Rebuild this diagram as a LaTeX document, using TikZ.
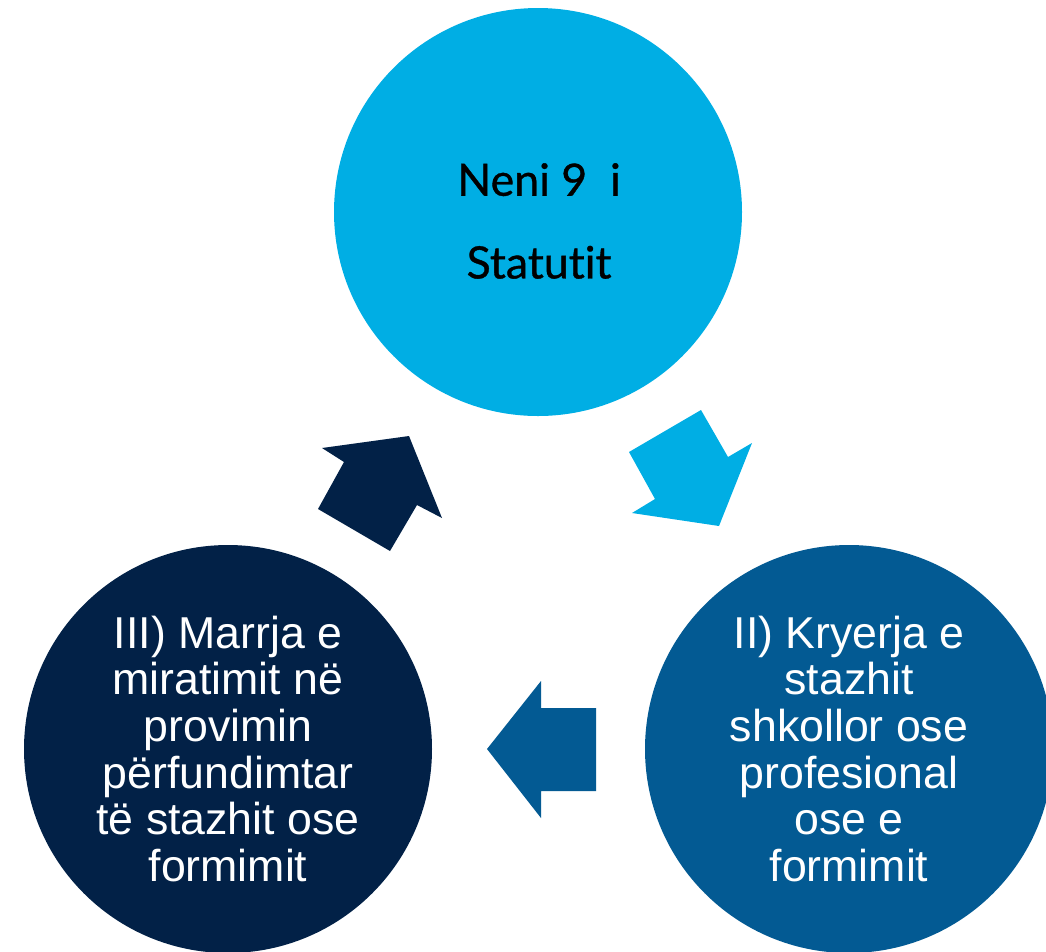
\documentclass[tikz,border=0pt]{standalone}
\usepackage{fontspec}
\setmainfont{Liberation Sans}
\newfontfamily\titlefont[Ligatures=NoCommon, FakeBold=0.8]{Lato}
\definecolor{lightblue}{RGB}{0,174,228}
\definecolor{midblue}{RGB}{3,90,147}
\definecolor{navy}{RGB}{2,33,71}
\tikzset{
  bubble/.style={circle, inner sep=0pt, minimum size=306pt, align=center},
  bodytext/.style={font=\fontsize{33.5}{35}\selectfont, text=white},
}
\begin{document}
\begin{tikzpicture}[x=0.75pt, y=-0.75pt]
\useasboundingbox (0,0) rectangle (1046,951);
\clip (0,0) rectangle (1046,951);
\node[bubble, fill=lightblue] (top) at (538,212) {};
\node[align=center, inner sep=0pt, font=\titlefont\fontsize{33.5}{62}\selectfont, text=black] (toplabel) at (539,221) {Neni 9\ \ i\\Statutit};
\node[bubble, fill=midblue, bodytext] (right) at (849,749) {II) Kryerja e\\stazhit\\shkollor ose\\profesional\\ose e\\formimit};
\node[bubble, fill=navy, bodytext] (left) at (228,749) {III) Marrja e\\miratimit në\\provimin\\përfundimtar\\të stazhit ose\\formimit};
% arrow top -> right
\fill[lightblue] (629,452) -- (701,410) -- (728,457) -- (752,443) -- (719,526) -- (632,513) -- (655,499) -- cycle;
% arrow right -> left
\fill[midblue] (487,749) -- (541,681) -- (541,708) -- (596,708) -- (596,791) -- (541,791) -- (541,818) -- cycle;
% arrow left -> top
\fill[navy] (322,448) -- (409,436) -- (442,518) -- (417,505) -- (390,551) -- (318,509) -- (344,462) -- cycle;
\end{tikzpicture}
\end{document}
